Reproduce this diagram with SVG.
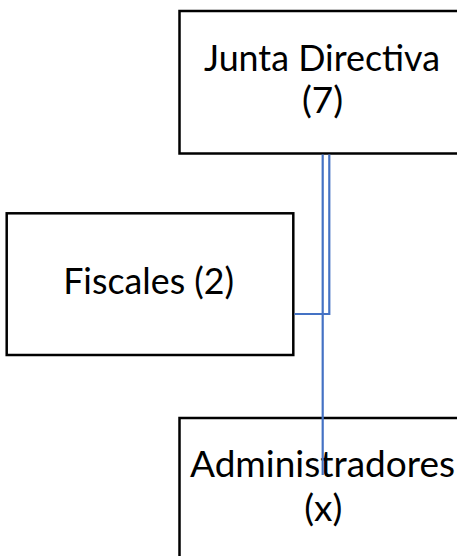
<svg xmlns="http://www.w3.org/2000/svg" width="457" height="556" viewBox="0 0 457 556">
<style>
.box{fill:#fff;stroke:#000;stroke-width:2.5}
.lbl{font-family:Lato,"Open Sans","Liberation Sans",sans-serif;font-size:37px;fill:#000;text-anchor:middle}
.conn{fill:none;stroke:#4472C4;stroke-width:2.2}
</style>
<rect width="457" height="556" fill="#fff"/>
<g id="junta">
<rect class="box" x="179.5" y="11" width="300" height="142.5"/>
<text class="lbl" x="322" y="71" textLength="236" lengthAdjust="spacingAndGlyphs">Junta Directiva</text>
<text class="lbl" x="322.5" y="113">(7)</text>
</g>
<g id="fiscales">
<rect class="box" x="6.7" y="213.3" width="286.6" height="141.7"/>
<text class="lbl" x="148.7" y="294" textLength="171" lengthAdjust="spacingAndGlyphs">Fiscales (2)</text>
</g>
<g id="administradores">
<rect class="box" x="179.5" y="418" width="300" height="200"/>
<text class="lbl" x="322.5" y="477" textLength="265" lengthAdjust="spacingAndGlyphs">Administradores</text>
<text class="lbl" x="323.3" y="520.5">(x)</text>
</g>
<g id="connectors">
<path class="conn" d="M322.7 154.5 V475"/>
<path class="conn" d="M329.3 154.5 V314 H294.5"/>
</g>
</svg>
